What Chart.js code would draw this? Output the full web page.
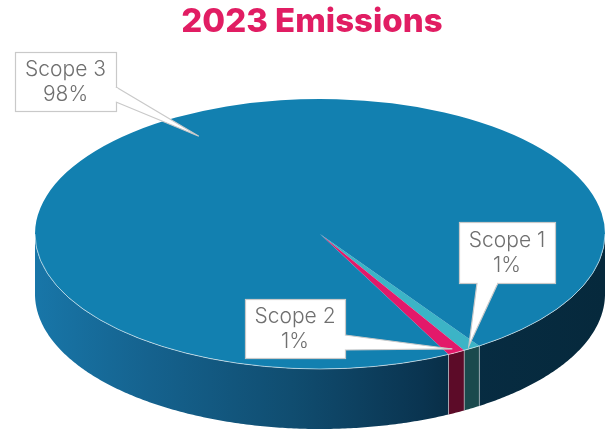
<!DOCTYPE html>
<html>
<head>
<meta charset="utf-8">
<script src="https://cdn.jsdelivr.net/npm/chart.js@4.4.1/dist/chart.umd.min.js"></script>
<style>
  html, body { margin: 0; padding: 0; background: #ffffff; }
  #wrap { width: 606px; height: 436px; }
</style>
</head>
<body>
<div id="wrap"><canvas id="c" width="606" height="436"></canvas></div>
<script>
// Emission shares by scope (percent of total)
const categories = ['Scope 1', 'Scope 2', 'Scope 3'];
const shares = [1, 1, 98];
const chartTitle = '2023 Emissions';

// Colours of the top faces and of the extruded sides
const topColors = ['#3CB4C6', '#E3196A', '#1280B0'];
const sideColors = ['#1B4A4D', '#5C0B28', 'gradient'];

// Projection of the disc onto a tilted ellipse
const DISC = { cx: 320, cy: 234, rx: 285, ry: 135, depth: 60 };

// Callout boxes: rectangle, pointer base on the box edge, tip radius fraction
const CALLOUTS = [
  { box: [459, 222, 96, 61], base: [[477, 283], [498, 283]], tipFrac: 0.98 },
  { box: [245, 299, 100, 59], base: [[345, 335], [345, 350]], tipFrac: 0.97 },
  { box: [15, 52, 101, 59], base: [[116, 87], [116, 102]], tipFrac: 0.84 }
];

function pointAt(t, frac, dy) {
  return [DISC.cx + DISC.rx * frac * Math.cos(t), DISC.cy + DISC.ry * frac * Math.sin(t) + (dy || 0)];
}

// Parts of an angular range that face the viewer (lower half of the ellipse)
function frontRanges(s, e) {
  const out = [];
  for (let k = -3; k <= 3; k++) {
    const off = k * 2 * Math.PI;
    const a = Math.max(s, off), b = Math.min(e, off + Math.PI);
    if (b > a) out.push([a - off, b - off]);
  }
  return out;
}

const pie3d = {
  id: 'pie3d',
  beforeDatasetsDraw(chart) {
    const ctx = chart.ctx;
    const meta = chart.getDatasetMeta(0);
    const grad = ctx.createLinearGradient(DISC.cx - DISC.rx, 0, DISC.cx + DISC.rx, 0);
    grad.addColorStop(0.00, '#1876A8');
    grad.addColorStop(0.20, '#15628E');
    grad.addColorStop(0.45, '#104D70');
    grad.addColorStop(0.68, '#0A3450');
    grad.addColorStop(0.75, '#072C42');
    grad.addColorStop(1.00, '#06293C');

    // extruded side walls
    meta.data.forEach((arc, i) => {
      const p = arc.getProps(['startAngle', 'endAngle'], true);
      frontRanges(p.startAngle, p.endAngle).forEach(([a, b]) => {
        const steps = Math.max(2, Math.ceil((b - a) / 0.01));
        ctx.beginPath();
        for (let j = 0; j <= steps; j++) {
          const t = a + (b - a) * j / steps;
          const [x, y] = pointAt(t, 1, 0);
          j === 0 ? ctx.moveTo(x, y) : ctx.lineTo(x, y);
        }
        for (let j = steps; j >= 0; j--) {
          const t = a + (b - a) * j / steps;
          const [x, y] = pointAt(t, 1, DISC.depth);
          ctx.lineTo(x, y);
        }
        ctx.closePath();
        ctx.fillStyle = sideColors[i] === 'gradient' ? grad : sideColors[i];
        ctx.fill();
      });
    });

    // thin light seams between side strips
    ctx.save();
    ctx.strokeStyle = 'rgba(255,255,255,0.45)';
    ctx.lineWidth = 1;
    meta.data.forEach((arc) => {
      const p = arc.getProps(['startAngle'], true);
      let t = p.startAngle % (2 * Math.PI);
      if (t < 0) t += 2 * Math.PI;
      if (t > 0.02 && t < Math.PI - 0.02) {
        const [x1, y1] = pointAt(t, 1, 0);
        const [x2, y2] = pointAt(t, 1, DISC.depth);
        ctx.beginPath(); ctx.moveTo(x1, y1); ctx.lineTo(x2, y2); ctx.stroke();
      }
    });
    ctx.restore();

    // tilt the disc drawn by the pie controller
    const a0 = meta.data[0].getProps(['x', 'y', 'outerRadius'], true);
    ctx.save();
    ctx.translate(DISC.cx, DISC.cy);
    ctx.scale(DISC.rx / a0.outerRadius, DISC.ry / a0.outerRadius);
    ctx.translate(-a0.x, -a0.y);
  },
  afterDatasetsDraw(chart) {
    const ctx = chart.ctx;
    ctx.restore();

    // light rim along the front edge of the top face
    ctx.save();
    ctx.strokeStyle = 'rgba(255,255,255,0.55)';
    ctx.lineWidth = 1;
    ctx.beginPath();
    ctx.ellipse(DISC.cx, DISC.cy, DISC.rx, DISC.ry, 0, 0, Math.PI);
    ctx.stroke();
    ctx.restore();

    // callouts
    const meta = chart.getDatasetMeta(0);
    const total = shares.reduce((s, v) => s + v, 0);
    meta.data.forEach((arc, i) => {
      const c = CALLOUTS[i];
      const p = arc.getProps(['startAngle', 'endAngle'], true);
      const mid = (p.startAngle + p.endAngle) / 2;
      const tip = pointAt(mid, c.tipFrac, 0);
      const [bx, by, bw, bh] = c.box;
      ctx.save();
      ctx.fillStyle = '#ffffff';
      ctx.strokeStyle = '#C9C9C9';
      ctx.lineWidth = 1.2;
      ctx.fillRect(bx, by, bw, bh);
      ctx.strokeRect(bx + 0.5, by + 0.5, bw, bh);
      // pointer
      ctx.beginPath();
      ctx.moveTo(c.base[0][0], c.base[0][1]);
      ctx.lineTo(tip[0], tip[1]);
      ctx.lineTo(c.base[1][0], c.base[1][1]);
      ctx.closePath();
      ctx.fill();
      ctx.beginPath();
      ctx.moveTo(c.base[0][0], c.base[0][1]);
      ctx.lineTo(tip[0], tip[1]);
      ctx.lineTo(c.base[1][0], c.base[1][1]);
      ctx.stroke();
      // open the box border under the pointer base
      const inset = 2;
      if (c.base[0][0] === c.base[1][0]) {
        ctx.fillRect(c.base[0][0] - inset, c.base[0][1] + 1, inset + 1.5, c.base[1][1] - c.base[0][1] - 2);
      } else {
        ctx.fillRect(c.base[0][0] + 1, c.base[0][1] - inset, c.base[1][0] - c.base[0][0] - 2, inset + 1.5);
      }
      // text
      ctx.fillStyle = '#707070';
      ctx.font = '300 21px Inter, "Open Sans", sans-serif';
      ctx.textAlign = 'center';
      ctx.textBaseline = 'middle';
      const cx = bx + bw / 2, cy = by + bh / 2;
      ctx.fillText(categories[i], cx, cy - 12);
      ctx.fillText(Math.round(shares[i] / total * 100) + '%', cx, cy + 13);
      ctx.restore();
    });
  }
};

new Chart(document.getElementById('c'), {
  type: 'pie',
  data: {
    labels: categories,
    datasets: [{
      data: shares,
      backgroundColor: topColors,
      borderWidth: 0
    }]
  },
  options: {
    responsive: false,
    devicePixelRatio: 1,
    animation: false,
    events: [],
    rotation: 146,
    layout: { padding: { left: 18, top: 0, right: 0, bottom: 0 } },
    plugins: {
      legend: { display: false },
      tooltip: { enabled: false },
      title: {
        display: true,
        text: chartTitle,
        color: '#E11D63',
        font: { family: 'Inter, "Open Sans", sans-serif', size: 33, weight: '800' },
        padding: { top: 2, bottom: 8 }
      }
    }
  },
  plugins: [pie3d]
});
</script>
</body>
</html>
